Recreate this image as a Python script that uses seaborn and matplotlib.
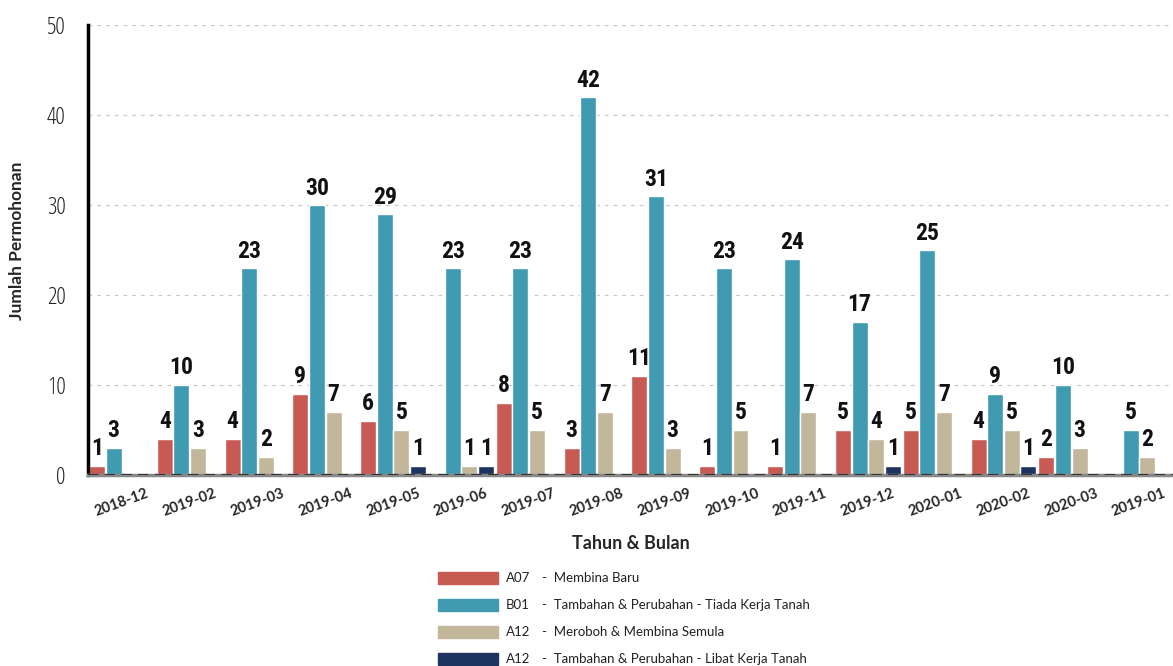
import matplotlib
matplotlib.use("Agg")
import matplotlib.pyplot as plt
from matplotlib.patches import Rectangle
import pandas as pd
import seaborn as sns

months = ["2018-12", "2019-02", "2019-03", "2019-04", "2019-05", "2019-06",
          "2019-07", "2019-08", "2019-09", "2019-10", "2019-11", "2019-12",
          "2020-01", "2020-02", "2020-03", "2019-01"]
a07 = [1, 4, 4, 9, 6, 0, 8, 3, 11, 1, 1, 5, 5, 4, 2, 0]
b01 = [3, 10, 23, 30, 29, 23, 23, 42, 31, 23, 24, 17, 25, 9, 10, 5]
a12_semula = [0, 3, 2, 7, 5, 1, 5, 7, 3, 5, 7, 4, 7, 5, 3, 2]
a12_libat = [0, 0, 0, 0, 1, 1, 0, 0, 0, 0, 0, 1, 0, 1, 0, 0]

codes = ["A07", "B01", "A12", "A12"]
descs = ["Membina Baru",
         "Tambahan & Perubahan - Tiada Kerja Tanah",
         "Meroboh & Membina Semula",
         "Tambahan & Perubahan - Libat Kerja Tanah"]
colors = ["#C85A54", "#3F9AB2", "#C2B69B", "#1D3461"]

series = [a07, b01, a12_semula, a12_libat]
keys = [c + " " + d for c, d in zip(codes, descs)]
rows = []
for key, vals in zip(keys, series):
    for m, v in zip(months, vals):
        rows.append({"bulan": m, "jenis": key, "jumlah": v})
df = pd.DataFrame(rows)

sns.set_style("white")
plt.rcParams["font.family"] = ["Lato", "DejaVu Sans"]
cond_fams = ["Roboto Condensed", "Open Sans Condensed", "Open Sans"]

fig = plt.figure(figsize=(11.73, 6.66), dpi=100)
ax = fig.add_axes([0.075, 0.287, 0.925, 0.675])

sns.barplot(data=df, x="bulan", y="jumlah", hue="jenis", order=months,
            hue_order=keys, palette=colors, width=0.98, gap=0.04,
            saturation=1, legend=False, ax=ax)

# value labels, hide the zeros
for cont in ax.containers:
    labels = [f"{int(b.get_height())}" if b.get_height() > 0 else "" for b in cont]
    ax.bar_label(cont, labels=labels, padding=4, fontsize=17,
                 fontweight="semibold", fontstretch="condensed",
                 family=cond_fams, color="#111111")

ax.set_ylim(0, 50)
ax.set_xlim(-0.5, len(months) - 0.5)
ax.set_yticks(range(0, 51, 10))
ax.yaxis.grid(True, linestyle=(0, (3, 4)), color="#c8c8c8", linewidth=0.9)
ax.set_axisbelow(True)
ax.axhline(0, color="#333333", linewidth=1.5, linestyle=(0, (5, 3)), zorder=5)

for s in ["top", "right"]:
    ax.spines[s].set_visible(False)
ax.spines["left"].set_color("black")
ax.spines["left"].set_linewidth(2.5)
ax.spines["bottom"].set_color("#888888")
ax.spines["bottom"].set_linewidth(2.5)

ax.tick_params(axis="y", direction="in", length=9, width=2.5, colors="black",
               labelsize=17, pad=16)
for t in ax.get_yticklabels():
    t.set_family("Open Sans")
    t.set_fontstretch("condensed")
    t.set_color("#222222")
ax.tick_params(axis="x", length=0, pad=8)
ax.set_xticks(range(len(months)))
ax.set_xticklabels(months, rotation=20, ha="center", fontsize=10.5,
                   fontweight="bold")

ax.set_xlabel("Tahun & Bulan", fontsize=13, fontweight="bold", labelpad=12)
ax.set_ylabel("Jumlah Permohonan", fontsize=12.5, fontweight="bold", labelpad=12)
ax.yaxis.set_label_coords(-0.058, 0.52)

# legend drawn below the plot
for i, (code, desc, col) in enumerate(zip(codes, descs, colors)):
    yc = 0.132 - i * 0.0405
    fig.add_artist(Rectangle((0.3735, yc - 0.009), 0.051, 0.018,
                             transform=fig.transFigure, color=col))
    fig.text(0.431, yc, code, fontsize=9.5, va="center", color="#222222")
    fig.text(0.462, yc, "-  " + desc, fontsize=9.5, va="center", color="#222222")

fig.savefig("out.png", dpi=100)
